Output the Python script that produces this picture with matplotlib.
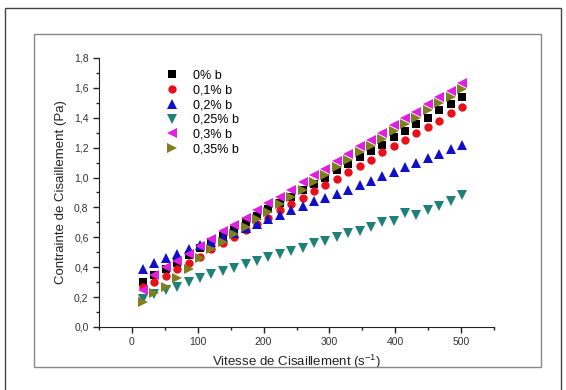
import matplotlib
matplotlib.use("Agg")
import matplotlib.pyplot as plt
from matplotlib.patches import Rectangle
from matplotlib.ticker import MultipleLocator, FuncFormatter

plt.rcParams['font.family'] = ['Liberation Sans', 'DejaVu Sans']

# shear rate (s^-1), 29 readings
shear = [17.0, 34.3, 51.6, 68.9, 86.2, 103.5, 120.8, 138.1, 155.4, 172.7,
         190.0, 207.3, 224.6, 241.9, 259.2, 276.5, 293.8, 311.1, 328.4, 345.7,
         363.0, 380.3, 397.6, 414.9, 432.2, 449.5, 466.8, 484.1, 501.4]

# shear stress (Pa) per sample
b_0 = [0.30, 0.35, 0.39, 0.43, 0.48, 0.53, 0.57, 0.61, 0.65, 0.70,
       0.74, 0.79, 0.83, 0.87, 0.92, 0.96, 1.00, 1.05, 1.09, 1.14,
       1.18, 1.22, 1.27, 1.31, 1.36, 1.40, 1.45, 1.49, 1.54]
b_01 = [0.27, 0.30, 0.34, 0.39, 0.43, 0.47, 0.52, 0.56, 0.60, 0.65,
        0.69, 0.73, 0.78, 0.82, 0.86, 0.91, 0.95, 0.99, 1.04, 1.08,
        1.12, 1.17, 1.21, 1.25, 1.30, 1.34, 1.38, 1.43, 1.47]
b_02 = [0.39, 0.43, 0.46, 0.49, 0.52, 0.55, 0.57, 0.60, 0.63, 0.66,
        0.69, 0.72, 0.75, 0.78, 0.81, 0.84, 0.86, 0.89, 0.92, 0.95,
        0.98, 1.01, 1.04, 1.07, 1.10, 1.13, 1.16, 1.19, 1.22]
b_025 = [0.19, 0.22, 0.25, 0.27, 0.30, 0.33, 0.355, 0.375, 0.395, 0.42,
         0.44, 0.47, 0.49, 0.51, 0.53, 0.56, 0.575, 0.60, 0.63, 0.64,
         0.67, 0.70, 0.71, 0.76, 0.75, 0.78, 0.81, 0.84, 0.88]
b_03 = [0.25, 0.35, 0.40, 0.44, 0.49, 0.54, 0.59, 0.64, 0.68, 0.73,
        0.78, 0.83, 0.87, 0.92, 0.97, 1.02, 1.06, 1.11, 1.16, 1.21,
        1.25, 1.30, 1.35, 1.40, 1.44, 1.49, 1.54, 1.58, 1.63]
b_035 = [0.17, 0.23, 0.27, 0.33, 0.39, 0.46, 0.52, 0.57, 0.62, 0.67,
         0.72, 0.77, 0.82, 0.87, 0.92, 0.97, 1.02, 1.07, 1.12, 1.17,
         1.21, 1.26, 1.31, 1.36, 1.40, 1.45, 1.50, 1.54, 1.59]

labels = ['0% b', '0,1% b', '0,2% b', '0,25% b', '0,3% b', '0,35% b']
series = [b_0, b_01, b_02, b_025, b_03, b_035]
markers = ['s', 'o', '^', 'v', '<', '>']
sizes = [5.5, 6, 7, 7, 7, 7]
colors = ['#000000', '#e8101a', '#1010c8', '#1f8078', '#e020e0', '#7f7f20']

fig = plt.figure(figsize=(5.66, 3.9), dpi=100)
W, H = 566.0, 390.0

# page frames
fig.patches.append(Rectangle((5 / W, -0.05), 556 / W, 1.05 - 8 / H, transform=fig.transFigure,
                             fill=False, edgecolor='#444444', linewidth=1.0))
fig.patches.append(Rectangle((34 / W, 1 - 367 / H), 507 / W, 333 / H, transform=fig.transFigure,
                             fill=False, edgecolor='#888888', linewidth=1.0))

ax = fig.add_axes([99 / W, 1 - 327 / H, 395 / W, 269 / H])

for ys, lab, m, sz, c in zip(series, labels, markers, sizes, colors):
    ax.plot(shear, ys, linestyle='none', marker=m, color=c, markersize=sz,
            markeredgewidth=0, label=lab)

ax.set_xlim(-50, 550)
ax.set_ylim(0, 1.8)
ax.xaxis.set_major_locator(MultipleLocator(100))
ax.xaxis.set_minor_locator(MultipleLocator(50))
ax.yaxis.set_major_locator(MultipleLocator(0.2))
ax.yaxis.set_minor_locator(MultipleLocator(0.1))
ax.yaxis.set_major_formatter(FuncFormatter(lambda v, p: ('%.1f' % v).replace('.', ',')))
ax.set_xticks([0, 100, 200, 300, 400, 500])

for s in ['top', 'right']:
    ax.spines[s].set_visible(False)
for s in ['left', 'bottom']:
    ax.spines[s].set_color('#222222')
ax.tick_params(which='major', direction='out', length=4, width=1, labelsize=7.5,
               labelcolor='#333333', color='#222222')
ax.tick_params(which='minor', direction='out', length=2.5, width=1, color='#222222')

ax.set_xlabel('Vitesse de Cisaillement (s$^{\\mathregular{-1}}$)', fontsize=9.5,
              color='#222222', labelpad=4)
ax.set_ylabel('Contrainte de Cisaillement (Pa)', fontsize=9.5, color='#222222', labelpad=5)

ax.legend(loc='upper left', bbox_to_anchor=(0.14, 0.975), frameon=False, fontsize=9,
          handletextpad=0.7, labelspacing=0.22, borderaxespad=0, markerscale=1.0)

fig.savefig('out.png', dpi=100)
